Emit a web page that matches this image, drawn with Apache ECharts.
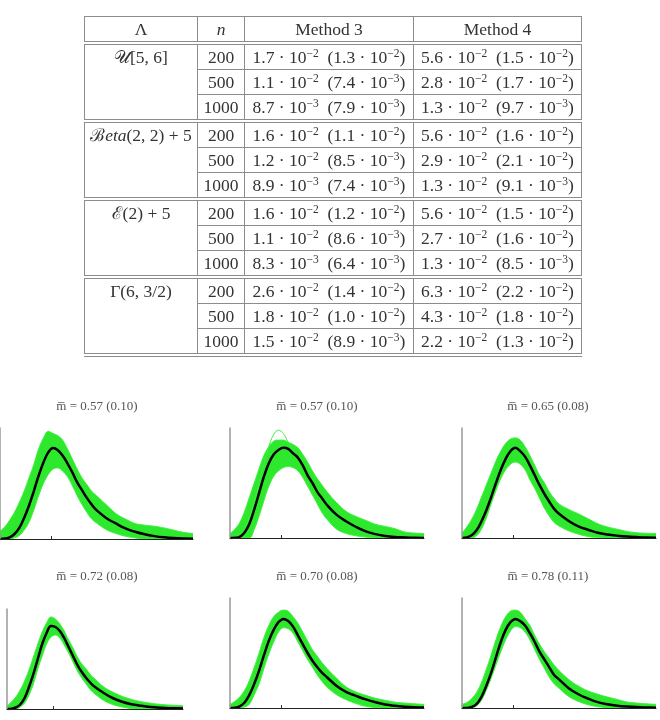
<!DOCTYPE html>
<html><head><meta charset="utf-8">
<script src="https://cdn.jsdelivr.net/npm/echarts@6/dist/echarts.min.js"></script>
<style>
html,body{margin:0;padding:0;background:#fff;width:660px;height:720px;overflow:hidden;}
#chart{position:absolute;left:0;top:0;width:660px;height:720px;}
#tbl{position:absolute;left:84px;top:16px;border-collapse:collapse;table-layout:fixed;width:497px;
  font-family:'Liberation Serif',serif;font-size:17.5px;color:#333;}
#tbl td{border:1px solid #8c8c8c;text-align:center;padding:0;height:24px;line-height:24px;white-space:nowrap;}
#tbl tr.gs td{border-top:4px double #8c8c8c;}
#tbl tr.last td, #tbl td.lastlam{border-bottom:4px double #8c8c8c;}
#tbl td.lam{vertical-align:top;}
#tbl sup{font-size:11.5px;line-height:0;vertical-align:6px;}
#tbl i{font-style:italic;}
</style></head>
<body>
<div id="chart"></div>
<table id="tbl"></table>
<script>
// ---------------- table data ----------------
const lambdaLabels = ['𝒰[5, 6]', 'ℬ<i>eta</i>(2, 2) + 5', 'ℰ(2) + 5', 'Γ(6, 3/2)'];
const sampleSizes = [200, 500, 1000];
const method3Mean = [1.7e-2, 1.1e-2, 8.7e-3, 1.6e-2, 1.2e-2, 8.9e-3, 1.6e-2, 1.1e-2, 8.3e-3, 2.6e-2, 1.8e-2, 1.5e-2];
const method3Sd   = [1.3e-2, 7.4e-3, 7.9e-3, 1.1e-2, 8.5e-3, 7.4e-3, 1.2e-2, 8.6e-3, 6.4e-3, 1.4e-2, 1.0e-2, 8.9e-3];
const method4Mean = [5.6e-2, 2.8e-2, 1.3e-2, 5.6e-2, 2.9e-2, 1.3e-2, 5.6e-2, 2.7e-2, 1.3e-2, 6.3e-2, 4.3e-2, 2.2e-2];
const method4Sd   = [1.5e-2, 1.7e-2, 9.7e-3, 1.6e-2, 2.1e-2, 9.1e-3, 1.5e-2, 1.6e-2, 8.5e-3, 2.2e-2, 1.8e-2, 1.3e-2];

// ---------------- plot data ----------------
const xGrid = [0,.025,.05,.075,.1,.125,.15,.175,.2,.225,.25,.275,.3,.325,.35,.375,.4,.425,.45,.475,.5,.55,.6,.65,.7,.75,.8,.85,.9,.95,1];
const xTickValues = [0.263];
const meanM = [0.57, 0.57, 0.65, 0.72, 0.70, 0.78];
const sdM   = [0.10, 0.10, 0.08, 0.08, 0.08, 0.11];

const black1 = [0,.004,.015,.045,.1,.19,.3,.43,.57,.69,.78,.82,.80,.75,.68,.6,.51,.44,.37,.31,.26,.19,.14,.095,.065,.042,.026,.015,.008,.004,.002];
const upper1 = [.07,.11,.17,.24,.33,.43,.55,.67,.81,.91,.97,.95,.93,.89,.81,.72,.63,.55,.49,.43,.39,.31,.23,.18,.14,.125,.115,.10,.08,.06,.05];
const lower1 = [0,0,0,.01,.03,.08,.15,.26,.39,.5,.58,.63,.64,.61,.56,.48,.39,.31,.24,.18,.145,.085,.05,.025,.01,0,0,0,0,0,0];

const black2 = [0,.002,.01,.05,.13,.26,.41,.56,.68,.76,.80,.82,.81,.77,.73,.66,.57,.5,.42,.36,.30,.21,.15,.10,.06,.035,.018,.009,.005,.002,.001];
const upper2 = [.04,.08,.14,.24,.37,.5,.63,.75,.83,.88,.89,.89,.87,.85,.82,.76,.69,.61,.54,.48,.42,.32,.24,.195,.16,.125,.105,.085,.055,.045,.04];
const lower2 = [0,0,0,0,0,.08,.2,.34,.47,.56,.61,.64,.65,.64,.61,.55,.47,.39,.31,.23,.17,.08,.04,.02,.008,0,0,0,0,0,0];
const outlier2 = [0,.01,.03,.09,.19,.33,.5,.67,.83,.94,.98,.95,.87,.80,.74,.67,.59,.51,.43,.36,.30,.2,.14,.095,.06,.04,.025,.015,.01,.006,.004];

const black3 = [0,.005,.025,.07,.15,.25,.37,.5,.62,.72,.79,.82,.79,.74,.66,.57,.48,.40,.33,.265,.22,.155,.105,.075,.048,.032,.021,.013,.008,.004,.002];
const upper3 = [.045,.1,.17,.26,.37,.48,.59,.7,.79,.86,.90,.91,.89,.83,.75,.66,.57,.5,.42,.36,.31,.26,.22,.175,.13,.10,.08,.06,.048,.043,.04];
const lower3 = [0,0,0,.02,.08,.18,.31,.43,.54,.62,.67,.69,.67,.62,.53,.45,.36,.27,.2,.14,.11,.065,.035,.014,.005,0,0,0,0,0,0];

const black4 = [0,.003,.015,.045,.11,.22,.35,.5,.65,.76,.83,.82,.78,.71,.62,.53,.44,.37,.31,.26,.22,.16,.11,.075,.05,.035,.022,.015,.01,.007,.005];
const upper4 = [.03,.07,.12,.19,.28,.39,.52,.65,.77,.86,.92,.90,.85,.78,.69,.61,.52,.45,.40,.34,.30,.22,.17,.13,.10,.078,.062,.05,.042,.037,.033];
const lower4 = [0,0,0,.02,.06,.14,.25,.4,.53,.65,.72,.74,.71,.64,.56,.47,.38,.31,.25,.19,.15,.085,.045,.022,.006,0,0,0,0,0,0];

const black5 = [0,.002,.015,.05,.12,.22,.34,.48,.61,.71,.78,.81,.79,.74,.66,.58,.50,.43,.37,.32,.28,.2,.145,.11,.078,.052,.032,.02,.012,.007,.005];
const upper5 = [.033,.06,.1,.16,.25,.37,.5,.64,.75,.83,.87,.89,.88,.83,.77,.69,.61,.53,.47,.41,.36,.27,.19,.145,.115,.088,.07,.053,.045,.038,.033];
const lower5 = [0,0,0,.01,.035,.12,.22,.36,.49,.6,.69,.73,.72,.68,.6,.52,.44,.37,.3,.24,.19,.12,.075,.04,.015,.004,0,0,0,0,0];

const black6 = [0,0,.01,.035,.1,.2,.32,.46,.6,.71,.78,.81,.79,.75,.68,.6,.51,.44,.37,.30,.26,.18,.125,.085,.053,.034,.021,.013,.008,.005,.003];
const upper6 = [.033,.05,.085,.14,.23,.35,.48,.62,.74,.83,.88,.89,.87,.81,.75,.66,.58,.51,.45,.39,.34,.26,.20,.155,.125,.10,.078,.055,.045,.038,.033];
const lower6 = [0,0,0,.02,.07,.16,.27,.39,.51,.62,.7,.74,.73,.69,.62,.53,.44,.36,.28,.22,.18,.105,.06,.03,.012,.003,0,0,0,0,0];

// ---------------- build table ----------------
function sci(v) {
  const e = Math.floor(Math.log10(v) + 1e-9);
  const m = (v / Math.pow(10, e)).toFixed(1);
  return m + ' · 10<sup>−' + (-e) + '</sup>';
}
function cell(m, s) { return sci(m) + '&ensp;(' + sci(s) + ')'; }
let html = '<colgroup><col style="width:113px"><col style="width:47px"><col style="width:169px"><col style="width:168px"></colgroup>';
html += '<tr><td>Λ</td><td><i>n</i></td><td>Method 3</td><td>Method 4</td></tr>';
lambdaLabels.forEach((lab, g) => {
  const lastGroup = g === lambdaLabels.length - 1;
  sampleSizes.forEach((n, r) => {
    const k = g * 3 + r;
    let cls = [];
    if (r === 0) cls.push('gs');
    if (lastGroup && r === 2) cls.push('last');
    html += '<tr class="' + cls.join(' ') + '">';
    if (r === 0) html += '<td class="lam' + (lastGroup ? ' lastlam' : '') + '" rowspan="3">' + lab + '</td>';
    html += '<td>' + n + '</td><td>' + cell(method3Mean[k], method3Sd[k]) + '</td><td>' + cell(method4Mean[k], method4Sd[k]) + '</td></tr>';
  });
});
document.getElementById('tbl').innerHTML = html;

// ---------------- build chart ----------------
const blacks = [black1, black2, black3, black4, black5, black6];
const uppers = [upper1, upper2, upper3, upper4, upper5, upper6];
const lowers = [lower1, lower2, lower3, lower4, lower5, lower6];
const outliers = [null, outlier2, null, null, null, null];

const gridPos = [
  {left: -2, top: 428, width: 195, height: 111},
  {left: 230, top: 428, width: 194, height: 110},
  {left: 462, top: 428, width: 194, height: 110},
  {left: 7, top: 609, width: 176, height: 100},
  {left: 230, top: 598, width: 194, height: 110},
  {left: 462, top: 598, width: 194, height: 110}
];
const titlePos = [[97, 407], [317, 407], [548, 407], [97, 577], [317, 577], [548, 577]];
const SMOOTH = 0.4;

const grids = [], xAxes = [], yAxes = [], series = [], graphics = [];
for (let i = 0; i < 6; i++) {
  grids.push(Object.assign({containLabel: false}, gridPos[i]));
  xAxes.push({
    type: 'value', gridIndex: i, min: 0, max: 1, z: 8,
    axisLine: {show: true, lineStyle: {color: '#222', width: 1}},
    axisTick: {show: true, inside: true, length: 3, customValues: xTickValues, lineStyle: {color: '#333'}},
    axisLabel: {show: false}, splitLine: {show: false}
  });
  yAxes.push({
    type: 'value', gridIndex: i, min: 0, max: 1, z: 8,
    axisLine: {show: true, lineStyle: {color: '#999', width: 1.5}},
    axisTick: {show: false}, axisLabel: {show: false}, splitLine: {show: false}
  });
  const lo = lowers[i], up = uppers[i], bl = blacks[i];
  series.push({
    type: 'line', xAxisIndex: i, yAxisIndex: i, smooth: SMOOTH, z: 2,
    symbol: 'none', silent: true,
    data: xGrid.map((u, k) => [u, up[k]]),
    lineStyle: {width: 1, color: '#3def3d'},
    areaStyle: {color: '#2ee82e', opacity: 1}
  });
  series.push({
    type: 'line', xAxisIndex: i, yAxisIndex: i, smooth: SMOOTH, z: 3,
    symbol: 'none', silent: true,
    data: xGrid.map((u, k) => [u, lo[k]]),
    lineStyle: {width: 1, color: '#3def3d'},
    areaStyle: {color: '#ffffff', opacity: 1}
  });
  if (outliers[i]) {
    series.push({
      type: 'line', xAxisIndex: i, yAxisIndex: i, smooth: SMOOTH, z: 4,
      symbol: 'none', silent: true,
      data: xGrid.map((u, k) => [u, outliers[i][k]]),
      lineStyle: {width: 1, color: '#3def3d'}
    });
  }
  series.push({
    type: 'line', xAxisIndex: i, yAxisIndex: i, smooth: SMOOTH, z: 5,
    symbol: 'none', silent: true,
    data: xGrid.map((u, k) => [u, bl[k]]),
    lineStyle: {width: 2.5, color: '#000'}
  });
  graphics.push({
    type: 'text', x: titlePos[i][0], y: titlePos[i][1],
    style: {
      text: 'm\u0305 = ' + meanM[i].toFixed(2) + ' (' + sdM[i].toFixed(2) + ')',
      font: '13px "Liberation Serif"', fill: '#555',
      textAlign: 'center', textVerticalAlign: 'middle'
    }
  });
}

const chart = echarts.init(document.getElementById('chart'), null, {renderer: 'canvas'});
chart.setOption({
  animation: false,
  backgroundColor: '#fff',
  grid: grids, xAxis: xAxes, yAxis: yAxes, series: series, graphic: graphics
});
</script>
</body></html>
